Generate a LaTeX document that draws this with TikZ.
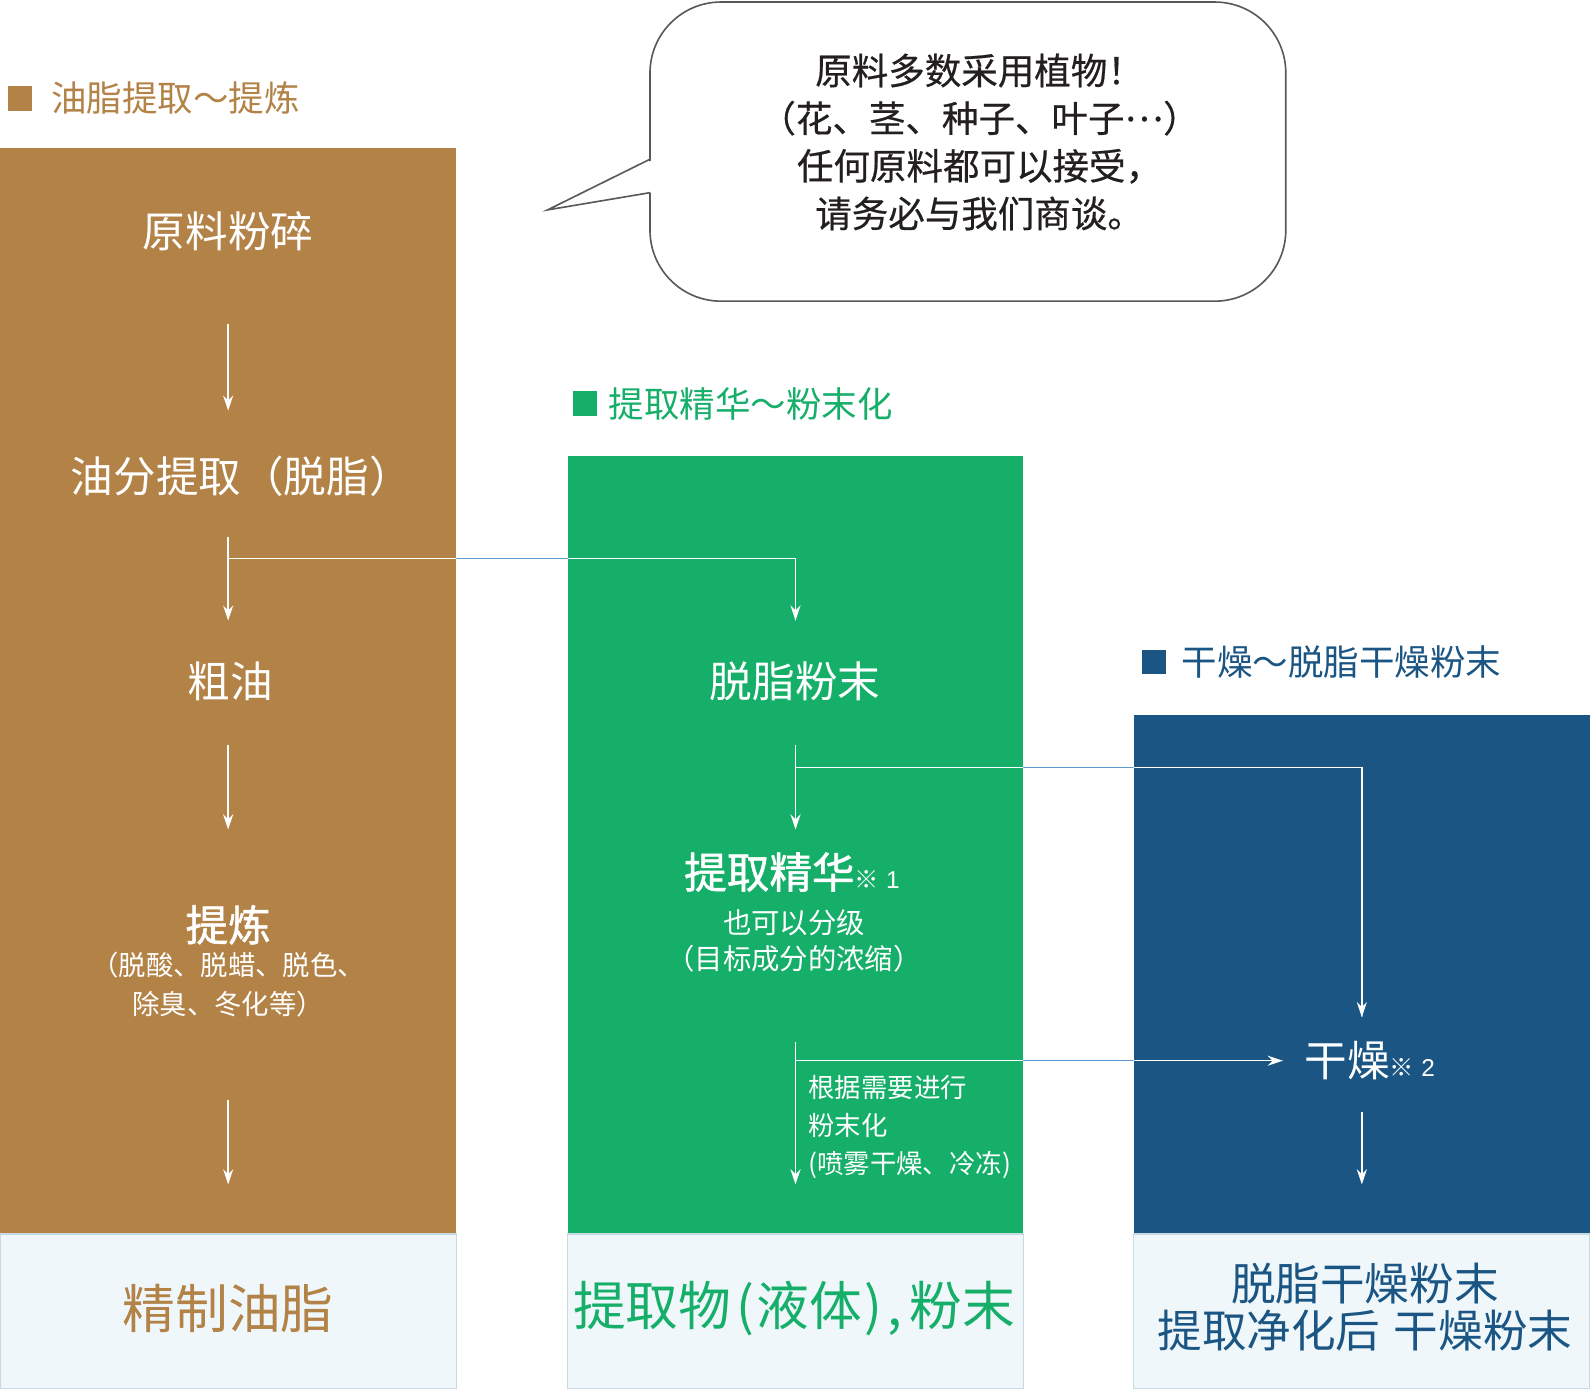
\documentclass[tikz,border=0pt]{standalone}
\usepackage{fontspec}
\setmainfont{Noto Sans CJK SC}
\newfontfamily\semibd{Noto Sans CJK SC}[FakeBold=1.3]
\newfontfamily\medcjk{Noto Sans CJK SC}[FakeBold=0.5]
\newfontfamily\latinsans{Liberation Sans}
\usetikzlibrary{arrows.meta,calc}
\definecolor{brownc}{HTML}{B28247}
\definecolor{greenc}{HTML}{15AF69}
\definecolor{bluec}{HTML}{1A5583}
\definecolor{lightc}{HTML}{EFF7FB}
\definecolor{lightedge}{HTML}{C6DAE4}
\definecolor{lineblue}{HTML}{629CCF}
\definecolor{bubedge}{HTML}{58595B}
\definecolor{bubtext}{HTML}{231F20}
\newcommand{\notemark}[1]{{\fontsize{12pt}{13pt}\selectfont ※\hspace{0.3em}{\latinsans\fontsize{12pt}{13pt}\selectfont #1}}}
\begin{document}
\begin{tikzpicture}[x=0.5pt,y=-0.5pt,
  colbox/.style={rectangle, inner sep=0pt, outer sep=0pt, anchor=north west},
  outbox/.style={rectangle, inner sep=0pt, outer sep=0pt, anchor=north west, fill=lightc, draw=lightedge, line width=0.6pt},
  sqmark/.style={rectangle, inner sep=0pt, minimum size=12pt},
  hdr/.style={inner sep=0pt, anchor=west, font=\fontsize{17.5pt}{20pt}\selectfont},
  ttl/.style={inner sep=0pt, text=white, font=\fontsize{21pt}{25pt}\selectfont},
  subtxt/.style={inner sep=0pt, text=white, align=center, font=\fontsize{13.5pt}{19.5pt}\selectfont},
  greensub/.style={inner sep=0pt, text=white, align=center, font=\fontsize{14pt}{18pt}\selectfont},
  sidetxt/.style={inner sep=0pt, text=white, align=left, anchor=west, font=\fontsize{13pt}{18.75pt}\selectfont},
  bigtxt/.style={inner sep=0pt, font=\fontsize{26pt}{30pt}\selectfont},
  bigtwo/.style={inner sep=0pt, align=center, font=\fontsize{22pt}{23.5pt}\selectfont},
  warr/.style={draw=white, line width=0.7pt, -{Stealth[length=7.5pt,width=5pt,inset=2.5pt]}},
  barr/.style={draw=lineblue, line width=0.7pt},
  bubline/.style={draw=bubedge, line width=0.8pt}
]
\useasboundingbox (0,0) rectangle (1568,1371);

% columns
\node[colbox, fill=brownc, minimum width=225pt, minimum height=535.5pt] (colA) at (0,146) {};
\node[colbox, fill=greenc, minimum width=224.5pt, minimum height=383.5pt] (colB) at (560,450) {};
\node[colbox, fill=bluec, minimum width=225pt, minimum height=256pt] (colC) at (1118,705) {};

% output boxes
\node[outbox, minimum width=225pt, minimum height=76pt] (boxA) at (0,1217) {};
\node[outbox, minimum width=224.5pt, minimum height=76pt] (boxB) at (560,1217) {};
\node[outbox, minimum width=225pt, minimum height=76pt] (boxC) at (1118,1217) {};

% headers
\node[sqmark, fill=brownc] (sqA) at (20,97) {};
\node[hdr, text=brownc] (hA) at (50,97) {油脂提取～提炼};
\node[sqmark, fill=greenc] (sqB) at (577,398) {};
\node[hdr, text=greenc] (hB) at (600,398) {提取精华～粉末化};
\node[sqmark, fill=bluec] (sqC) at (1138,653) {};
\node[hdr, text=bluec] (hC) at (1165,653) {干燥～脱脂干燥粉末};

% speech bubble
\draw[bubline, fill=white, rounded corners=35pt] (641,2) rectangle (1268,297);
\fill[white] (644,157.5) -- (540,207) -- (644,189.5) -- cycle;
\draw[bubline, line join=miter] (641,157) -- (540,207) -- (641,190);
\node[inner sep=0pt, align=center, text=bubtext, font=\medcjk\fontsize{18pt}{23.5pt}\selectfont] (bubt) at (966,140)
  {原料多数采用植物！\\（花、茎、种子、叶子\raisebox{0.3em}{…}）\\任何原料都可以接受，\\请务必与我们商谈。};

% brown column texts
\node[ttl] (yuan) at (225,228) {原料粉碎};
\node[ttl] (youfen) at (238,470) {油分提取（脱脂）};
\node[ttl] (cuyou) at (227,672) {粗油};
\node[ttl] (tilian) at (225,912) {\semibd 提炼};
\node[subtxt] (tlsub) at (225,971) {（脱酸、脱蜡、脱色、\\除臭、冬化等）};

% green column texts
\node[ttl] (tuozhi) at (784,672) {脱脂粉末};
\node[ttl] (jinghua) at (781,860) {{\semibd 提取精华}\notemark{1}};
\node[greensub] (jhsub) at (783,928) {也可以分级\\（目标成分的浓缩）};
\node[sidetxt] (fenmo) at (797,1111) {根据需要进行\\粉末化\\(喷雾干燥、冷冻)};

% blue column texts
\node[ttl, anchor=west] (ganzao) at (1286,1046) {干燥\notemark{2}};

% outputs
\node[bigtxt, text=brownc] (outA) at (225,1290) {精制油脂};
\node[bigtxt, text=greenc] (outB) at (783,1290) {提取物\hspace{0.09em}(\hspace{0.05em}液体\hspace{0.05em})\hspace{0.09em},\hspace{0.14em}粉末};
\node[bigtwo, text=bluec] (outC) at (1346,1289) {脱脂干燥粉末\\提取净化后\hspace{0.3em}干燥粉末};

% vertical arrows
\draw[warr, shorten <=46pt, shorten >=32.5pt] (colA.center |- yuan.center) -- (colA.center |- youfen.center);
\draw[warr, shorten <=30pt, shorten >=30pt] (colA.center |- youfen.center) -- (colA.center |- cuyou.center);
\draw[warr, shorten <=31.5pt, shorten >=47pt] (colA.center |- cuyou.center) -- (colA.center |- tilian.center);
\draw[warr, shorten <=57pt, shorten >=61pt] (colA.center |- tlsub.center) -- (colA.center |- outA.center);
\draw[warr, shorten <=31.5pt, shorten >=21pt] (colB.center |- tuozhi.center) -- (colB.center |- jinghua.center);
\draw[warr, shorten <=50pt, shorten >=61pt] (colB.center |- jhsub.center) -- (colB.center |- outB.center);
\draw[warr, shorten <=25.5pt, shorten >=60.5pt] (colC.center |- ganzao.center) -- (colC.center |- outC.center);

% branch connectors: blue in the gaps
\draw[barr] ($(colA.center |- youfen.center)+(0,81)$) -| ($(colB.center |- tuozhi.center)+(0,-60)$);
\draw[barr] ($(colB.center |- tuozhi.center)+(0,85)$) -| ($(colC.center |- ganzao.center)+(0,-43)$);
\draw[barr] (colB.center |- ganzao.west) -- ($(ganzao.west)+(-21,0)$);
% and white inside the coloured boxes
\begin{scope}
\clip (colA.north west) rectangle (colA.south east) (colB.north west) rectangle (colB.south east) (colC.north west) rectangle (colC.south east);
\draw[warr] ($(colA.center |- youfen.center)+(0,81)$) -| ($(colB.center |- tuozhi.center)+(0,-60)$);
\draw[warr] ($(colB.center |- tuozhi.center)+(0,85)$) -| ($(colC.center |- ganzao.center)+(0,-43)$);
\draw[warr] (colB.center |- ganzao.west) -- ($(ganzao.west)+(-21,0)$);
\end{scope}
\end{tikzpicture}
\end{document}
